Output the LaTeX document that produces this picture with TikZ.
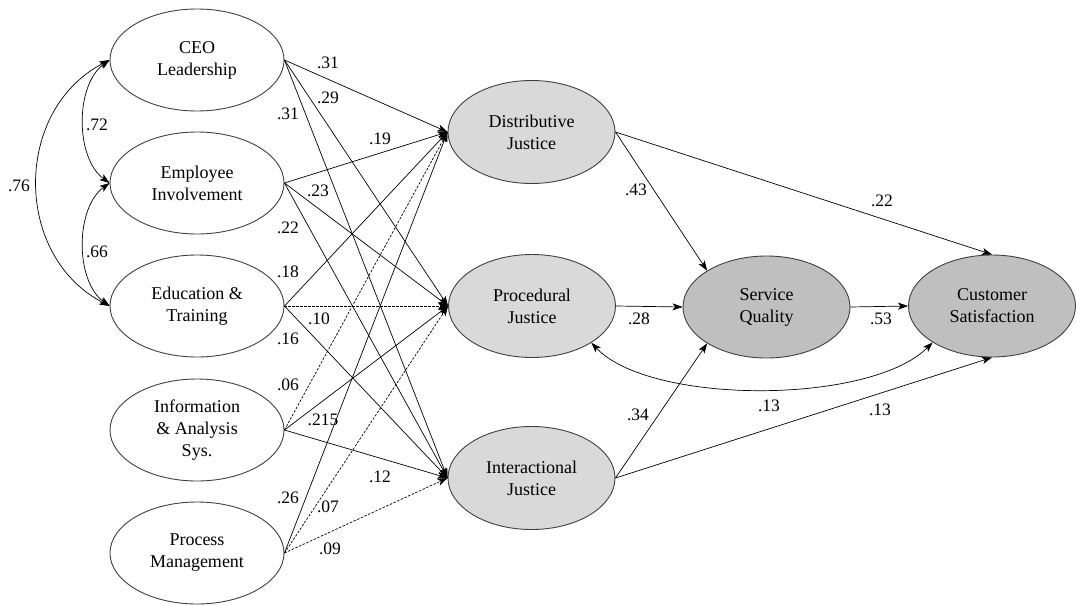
\documentclass[tikz,border=0pt]{standalone}
\usepackage{fontspec}
\setmainfont{Liberation Serif}
\usetikzlibrary{arrows.meta,shapes.geometric}
\begin{document}
\begin{tikzpicture}[x=1pt,y=-1pt,
  latent/.style={ellipse,draw=black!75,line width=0.9pt,inner sep=0pt,align=center,font=\fontsize{18}{22}\selectfont},
  exo/.style={latent,minimum width=174pt,minimum height=102pt,fill=white},
  med/.style={latent,minimum width=167pt,minimum height=103pt,fill=gray!30},
  outc/.style={latent,minimum width=167pt,minimum height=102pt,fill=gray!50},
  arr/.style={-{Stealth[length=10pt,width=7pt,inset=2.5pt]},line width=0.7pt},
  darr/.style={arr,dash pattern=on 2.5pt off 1.5pt},
  cov/.style={{Stealth[length=10pt,width=7pt,inset=2.5pt]}-{Stealth[length=10pt,width=7pt,inset=2.5pt]},line width=0.7pt},
  lbl/.style={font=\fontsize{17.5}{20}\selectfont,inner sep=0pt}
]
\useasboundingbox (0,0) rectangle (1076,605);
\fill[white] (0,0) rectangle (1076,605);

% exogenous
\node[exo] (ceo) at (197,60) {CEO\\Leadership};
\node[exo] (emp) at (197,183) {Employee\\Involvement};
\node[exo] (edu) at (197,306) {Education \&\\Training};
\node[exo] (inf) at (197,430) {Information\\\& Analysis\\Sys.};
\node[exo] (pro) at (197,553) {Process\\Management};

% mediators
\node[med] (dj) at (531.5,132) {Distributive\\Justice};
\node[med] (pj) at (532,306) {Procedural\\Justice};
\node[med] (ij) at (531.5,478) {Interactional\\Justice};

% outcomes
\node[outc] (sq) at (766.5,307) {Service\\Quality};
\node[outc] (cs) at (992,306) {Customer\\Satisfaction};

% covariances
\draw[cov] (ceo.west) .. controls (75,85) and (75,158) .. (emp.west);
\draw[cov] (emp.west) .. controls (75,208) and (75,281) .. (edu.west);
\draw[cov] (ceo.west) .. controls (13,110) and (13,256) .. (edu.west);

% paths from exogenous
\draw[arr] (ceo.east) -- (dj.west);
\draw[arr] (ceo.east) -- (pj.west);
\draw[arr] (ceo.east) -- (ij.west);
\draw[arr] (emp.east) -- (dj.west);
\draw[arr] (emp.east) -- (pj.west);
\draw[arr] (emp.east) -- (ij.west);
\draw[arr] (edu.east) -- (dj.west);
\draw[darr] (edu.east) -- (pj.west);
\draw[arr] (edu.east) -- (ij.west);
\draw[darr] (inf.east) -- (dj.west);
\draw[arr] (inf.east) -- (pj.west);
\draw[arr] (inf.east) -- (ij.west);
\draw[arr] (pro.east) -- (dj.west);
\draw[darr] (pro.east) -- (pj.west);
\draw[darr] (pro.east) -- (ij.west);

% right side
\draw[arr] (dj.east) -- (sq.north west);
\draw[arr] (dj.east) -- (cs.north);
\draw[arr] (pj.east) -- (sq.west);
\draw[arr] (sq.east) -- (cs.west);
\draw[arr] (ij.east) -- (sq.south west);
\draw[arr] (ij.east) -- (cs.south);
\draw[cov] (pj.south east) .. controls (650,405) and (870,405) .. (cs.south west);

% labels
\node[lbl] (l1) at (328,63) {.31};
\node[lbl] (l2) at (328,98) {.29};
\node[lbl] (l3) at (288,114) {.31};
\node[lbl] (l4) at (380,139) {.19};
\node[lbl] (l5) at (318,191) {.23};
\node[lbl] (l6) at (288,228) {.22};
\node[lbl] (l7) at (288,272) {.18};
\node[lbl] (l8) at (319,319) {.10};
\node[lbl] (l9) at (288,339) {.16};
\node[lbl] (l10) at (288,385) {.06};
\node[lbl] (l11) at (323,420) {.215};
\node[lbl] (l12) at (380,477) {.12};
\node[lbl] (l13) at (288,498) {.26};
\node[lbl] (l14) at (328,507) {.07};
\node[lbl] (l15) at (330,549) {.09};
\node[lbl] (l16) at (97,125) {.72};
\node[lbl] (l17) at (19,186) {.76};
\node[lbl] (l18) at (97,252) {.66};
\node[lbl] (l19) at (636,190) {.43};
\node[lbl] (l20) at (882,201) {.22};
\node[lbl] (l21) at (639,319) {.28};
\node[lbl] (l22) at (881,319) {.53};
\node[lbl] (l23) at (638,415) {.34};
\node[lbl] (l24) at (769,406) {.13};
\node[lbl] (l25) at (880,410) {.13};
\end{tikzpicture}
\end{document}
